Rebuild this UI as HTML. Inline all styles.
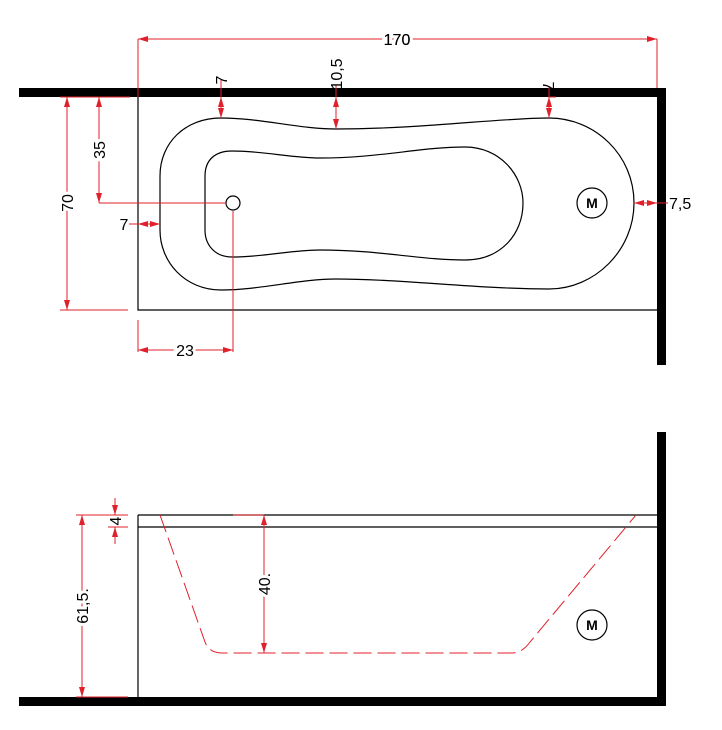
<!DOCTYPE html>
<html><head><meta charset="utf-8"><style>html,body{margin:0;padding:0;background:#fff}svg{display:block}</style></head><body>
<svg width="722" height="730" viewBox="0 0 722 730" xmlns="http://www.w3.org/2000/svg" font-family="Liberation Sans, sans-serif">
<defs>
<marker id="a" viewBox="0 0 10 6" refX="10" refY="3" markerWidth="10" markerHeight="6" markerUnits="userSpaceOnUse" orient="auto-start-reverse"><path d="M0,0 L10,3 L0,6 Z" fill="#e0202a"/></marker>
</defs>
<g fill="#000">
<rect x="19" y="88" width="647" height="9"/>
<rect x="657" y="88" width="9" height="277"/>
<rect x="657" y="432" width="9" height="274"/>
<rect x="19" y="697" width="647" height="9"/>
</g>
<g fill="none" stroke="#000" stroke-width="1.2">
<path d="M138,97 V310 H657"/>
<path d="M221,118 C260,118 300,129 336,129 C420,129 500,118 549,118 C595,118 634,155 634,203 C634,250 595,289 549,289 C480,289 400,279 336,279 C300,279 260,290 221,290 C185,290 160,262 160,230 L160,176 C160,143 185,118 221,118 Z"/>
<path d="M232,151 C265,151 290,158 320,158 C380,158 420,147 465,147 C500,147 523,175 523,203 C523,235 500,260 465,260 C420,260 380,250 320,250 C290,250 265,257 232,257 C215,257 205,245 205,230 L205,176 C205,160 215,151 232,151 Z"/>
<circle cx="233" cy="203" r="7"/>
<circle cx="592" cy="203" r="15"/>
<path d="M138,515 H657 M138,527 H657 M138,515 V697"/>
<circle cx="592" cy="625" r="15"/>
</g>
<g font-weight="bold" font-size="14" text-anchor="middle"><text x="592" y="208">M</text><text x="592" y="630">M</text></g>
<g fill="none" stroke="#e0202a" stroke-width="1">
<path d="M138,97 V39 M657,39 V88"/>
<path d="M138,39 H657" marker-start="url(#a)" marker-end="url(#a)"/>
<path d="M60,97 H130 M60,310 H128"/>
<path d="M67,97 V310" marker-start="url(#a)" marker-end="url(#a)"/>
<path d="M99,203 H226"/>
<path d="M99,97 V203" marker-start="url(#a)" marker-end="url(#a)"/>
<path d="M129,224 H138"/>
<path d="M138,224 H160" marker-start="url(#a)" marker-end="url(#a)"/>
<path d="M138,320 V352 M233,211 V352"/>
<path d="M138,350 H233" marker-start="url(#a)" marker-end="url(#a)"/>
<path d="M221,80 V97" /><path d="M221,97 V118" marker-start="url(#a)" marker-end="url(#a)"/>
<path d="M336,85 V97" /><path d="M336,97 V129" marker-start="url(#a)" marker-end="url(#a)"/>
<path d="M549,86 V97 H556" /><path d="M549,97 V118" marker-start="url(#a)" marker-end="url(#a)"/>
<path d="M634,203 H657" marker-start="url(#a)" marker-end="url(#a)"/>
<path d="M657,203 H668"/>
<path d="M76,515 H128 M76,697 H128"/>
<path d="M82,515 V697" marker-start="url(#a)" marker-end="url(#a)"/>
<path d="M108,515 H128 M108,527 H128"/>
<path d="M115,498 V515" marker-end="url(#a)"/><path d="M115,544 V527" marker-end="url(#a)"/>
<path d="M233,515 H264"/>
<path d="M264,515 V653" marker-start="url(#a)" marker-end="url(#a)"/>
<path d="M160,515 L205,642 Q209,653 222,653 H512 Q522,653 530,642 L636,515" stroke-dasharray="18,6"/>
</g>
<g font-size="16" fill="#000">
<text x="397" y="45" text-anchor="middle" style="paint-order:stroke" stroke="#fff" stroke-width="6">170</text>
<text x="397" y="45" text-anchor="middle">170</text>
<text x="73" y="203" text-anchor="middle" transform="rotate(-90 73 203)" style="paint-order:stroke" stroke="#fff" stroke-width="6">70</text>
<text x="105" y="150" text-anchor="middle" transform="rotate(-90 105 150)" style="paint-order:stroke" stroke="#fff" stroke-width="6">35</text>
<text x="124" y="230" text-anchor="middle">7</text>
<text x="185" y="356" text-anchor="middle" style="paint-order:stroke" stroke="#fff" stroke-width="6">23</text>
<text x="227" y="80" text-anchor="middle" transform="rotate(-90 227 80)">7</text>
<text x="342" y="74" text-anchor="middle" transform="rotate(-90 342 74)">10,5</text>
<text x="543" y="86" text-anchor="middle" transform="rotate(90 543 86)">7</text>
<text x="669" y="209">7,5</text>
<text x="88" y="606" text-anchor="middle" transform="rotate(-90 88 606)" style="paint-order:stroke" stroke="#fff" stroke-width="6">61,5.</text>
<text x="121" y="521" text-anchor="middle" transform="rotate(-90 121 521)">4</text>
<text x="270" y="584" text-anchor="middle" transform="rotate(-90 270 584)" style="paint-order:stroke" stroke="#fff" stroke-width="6">40.</text>
</g>
</svg>
</body></html>
